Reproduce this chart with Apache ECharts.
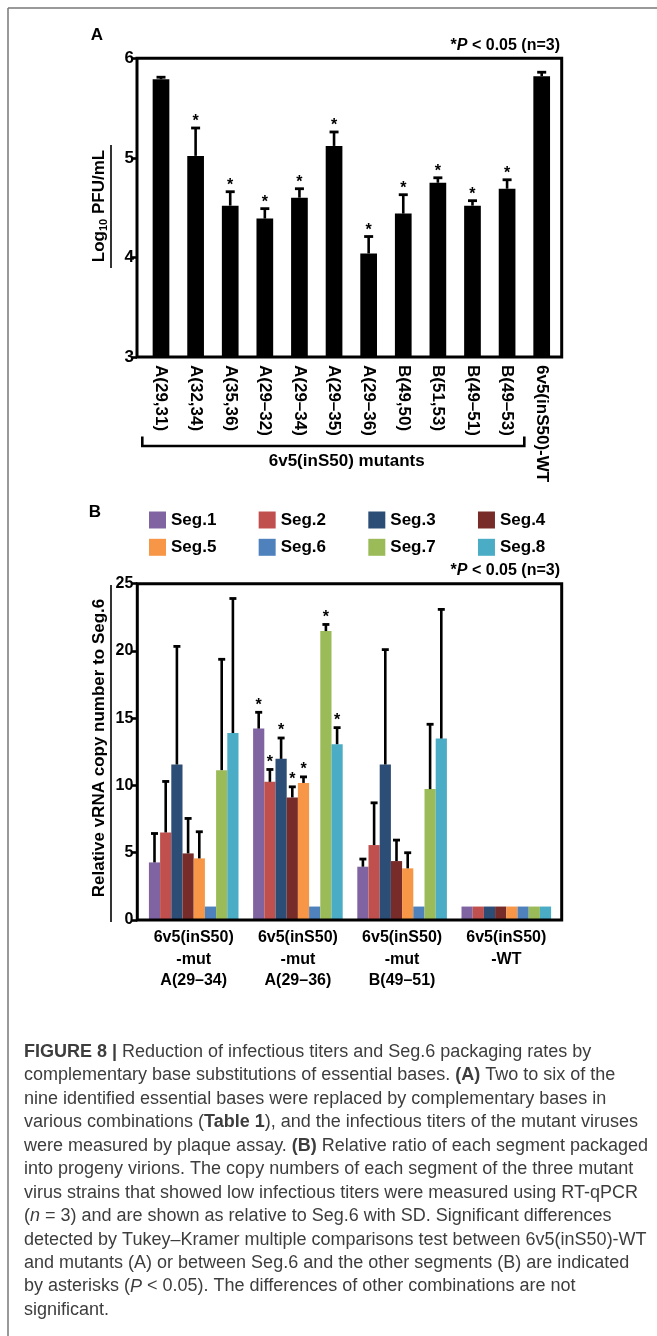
<!DOCTYPE html>
<html><head><meta charset="utf-8">
<script src="https://cdn.jsdelivr.net/npm/echarts@6/dist/echarts.min.js"></script>
<style>html,body{margin:0;padding:0;background:#fff}#c{width:657px;height:1336px}</style>
</head><body><div id="c"></div>
<script>
// ---------- Panel A data ----------
const mutantLabels = ['A(29,31)','A(32,34)','A(35,36)','A(29–32)','A(29–34)','A(29–35)','A(29–36)','B(49,50)','B(51,53)','B(49–51)','B(49–53)','6v5(inS50)-WT'];
const titerMean = [5.79, 5.02, 4.52, 4.39, 4.60, 5.12, 4.04, 4.44, 4.75, 4.52, 4.69, 5.82];
const titerSD   = [0.02, 0.28, 0.14, 0.10, 0.09, 0.14, 0.17, 0.19, 0.05, 0.05, 0.09, 0.04];
const titerSig  = [0, 1, 1, 1, 1, 1, 1, 1, 1, 1, 1, 0];
const yMinA = 3, yMaxA = 6, yStepA = 1;

// ---------- Panel B data ----------
const groupLabels = ['6v5(inS50)\n-mut\nA(29–34)', '6v5(inS50)\n-mut\nA(29–36)', '6v5(inS50)\n-mut\nB(49–51)', '6v5(inS50)\n-WT'];
const segNames = ['Seg.1','Seg.2','Seg.3','Seg.4','Seg.5','Seg.6','Seg.7','Seg.8'];
const seg1Mean = [4.28, 14.23, 3.96, 1];
const seg2Mean = [6.51, 10.27, 5.57, 1];
const seg3Mean = [11.56, 11.98, 11.56, 1];
const seg4Mean = [4.95, 9.11, 4.38, 1];
const seg5Mean = [4.58, 10.19, 3.84, 1];
const seg6Mean = [1, 1, 1, 1];
const seg7Mean = [11.14, 21.48, 9.73, 1];
const seg8Mean = [13.90, 13.07, 13.49, 1];
const seg1SD = [2.15, 1.21, 0.57, 0];
const seg2SD = [3.79, 0.92, 3.14, 0];
const seg3SD = [8.78, 1.55, 8.54, 0];
const seg4SD = [2.60, 0.79, 1.56, 0];
const seg5SD = [1.98, 0.45, 1.16, 0];
const seg6SD = [0, 0, 0, 0];
const seg7SD = [8.24, 0.49, 4.82, 0];
const seg8SD = [10.00, 1.23, 9.60, 0];
const seg1Sig = [0, 1, 0, 0];
const seg2Sig = [0, 1, 0, 0];
const seg3Sig = [0, 1, 0, 0];
const seg4Sig = [0, 1, 0, 0];
const seg5Sig = [0, 1, 0, 0];
const seg6Sig = [0, 0, 0, 0];
const seg7Sig = [0, 1, 0, 0];
const seg8Sig = [0, 1, 0, 0];
const yMinB = 0, yMaxB = 25, yStepB = 5;

// ---------- styles ----------
const segColors = ['#8064A2','#C0504D','#2C4D75','#772C2A','#F79646','#4F81BD','#9BBB59','#4BACC6'];
const FONT = '"Liberation Sans", Arial, sans-serif';
const barWA = 16.7, barWB = 11.2;

const segMeans = [seg1Mean,seg2Mean,seg3Mean,seg4Mean,seg5Mean,seg6Mean,seg7Mean,seg8Mean];
const segSDs = [seg1SD,seg2SD,seg3SD,seg4SD,seg5SD,seg6SD,seg7SD,seg8SD];
const segSigs = [seg1Sig,seg2Sig,seg3Sig,seg4Sig,seg5Sig,seg6Sig,seg7Sig,seg8Sig];

const errA = titerMean.map((m, i) => [i, m, titerSD[i], titerSig[i]]);
const errB = [];
segMeans.forEach((arr, s) => arr.forEach((m, g) => errB.push([g, m, segSDs[s][g], segSigs[s][g], s])));

function errRenderer(cap, starGap, offsetFn) {
  return function (params, api) {
    const i = api.value(0), m = api.value(1), sd = api.value(2), sig = api.value(3);
    if (!sd) return null;
    const p0 = api.coord([i, m]);
    const p1 = api.coord([i, m + sd]);
    const dx = offsetFn ? offsetFn(api) : 0;
    const x = p0[0] + dx;
    const ch = [
      {type: 'line', shape: {x1: x, y1: p0[1], x2: x, y2: p1[1]}, style: {stroke: '#000', lineWidth: 2.6}},
      {type: 'line', shape: {x1: x - cap / 2, y1: p1[1], x2: x + cap / 2, y2: p1[1]}, style: {stroke: '#000', lineWidth: 2.8}}
    ];
    if (sig) ch.push({type: 'text', style: {text: '*', x: x, y: p1[1] - starGap, align: 'center', verticalAlign: 'middle', font: 'bold 16px ' + FONT, fill: '#000'}});
    return {type: 'group', children: ch};
  };
}

const captionLines = [
  '{b|FIGURE 8 |} Reduction of infectious titers and Seg.6 packaging rates by',
  'complementary base substitutions of essential bases. {b|(A)} Two to six of the',
  'nine identified essential bases were replaced by complementary bases in',
  'various combinations ({b|Table 1}), and the infectious titers of the mutant viruses',
  'were measured by plaque assay. {b|(B)} Relative ratio of each segment packaged',
  'into progeny virions. The copy numbers of each segment of the three mutant',
  'virus strains that showed low infectious titers were measured using RT-qPCR',
  '({i|n} = 3) and are shown as relative to Seg.6 with SD. Significant differences',
  'detected by Tukey–Kramer multiple comparisons test between 6v5(inS50)-WT',
  'and mutants (A) or between Seg.6 and the other segments (B) are indicated',
  'by asterisks ({i|P} < 0.05). The differences of other combinations are not',
  'significant.'
];
const CAP_FS = 18, CAP_COLOR = '#3d3d3d';
const capRich = {
  b: {fontWeight: 'bold', fontSize: CAP_FS, fontFamily: FONT, color: CAP_COLOR},
  i: {fontStyle: 'italic', fontSize: CAP_FS, fontFamily: FONT, color: CAP_COLOR}
};
const pRich = {a: {fontSize: 16, fontWeight: 'bold', fontFamily: FONT, color: '#000'}, p: {fontSize: 16, fontWeight: 'bold', fontStyle: 'italic', fontFamily: FONT, color: '#000'}};

const graphics = [
  {type: 'line', shape: {x1: 8, y1: 8, x2: 657, y2: 8}, style: {stroke: '#777', lineWidth: 1.5}},
  {type: 'line', shape: {x1: 8, y1: 8, x2: 8, y2: 1336}, style: {stroke: '#777', lineWidth: 1.5}},
  {type: 'rect', shape: {x: 137, y: 58.3, width: 424.7, height: 298.7}, style: {stroke: '#000', fill: null, lineWidth: 3}, z: 10},
  {type: 'rect', shape: {x: 137.3, y: 583.7, width: 424.4, height: 336.3}, style: {stroke: '#000', fill: null, lineWidth: 3}, z: 10},
  {type: 'text', x: 97, y: 35, style: {text: 'A', font: 'bold 17px ' + FONT, fill: '#000', align: 'center', verticalAlign: 'middle'}},
  {type: 'text', x: 95, y: 512, style: {text: 'B', font: 'bold 17px ' + FONT, fill: '#000', align: 'center', verticalAlign: 'middle'}},
  {type: 'text', x: 560, y: 46, style: {text: '{a|*}{p|P}{a| < 0.05 (n=3)}', align: 'right', verticalAlign: 'middle', rich: pRich}},
  {type: 'text', x: 560, y: 571, style: {text: '{a|*}{p|P}{a| < 0.05 (n=3)}', align: 'right', verticalAlign: 'middle', rich: pRich}},
  {type: 'text', x: 99, y: 206, rotation: Math.PI / 2, style: {text: '{m|Log}{s|10}{m| PFU/mL}', align: 'center', verticalAlign: 'middle',
    rich: {m: {fontSize: 17, fontWeight: 'bold', fontFamily: FONT, color: '#000', lineHeight: 20}, s: {fontSize: 11, fontWeight: 'bold', fontFamily: FONT, color: '#000', lineHeight: 11, padding: [9, 0, 0, 0]}}}},
  {type: 'line', shape: {x1: 111, y1: 145, x2: 111, y2: 268}, style: {stroke: '#000', lineWidth: 1.6}},
  {type: 'text', x: 99, y: 748, rotation: Math.PI / 2, style: {text: 'Relative vRNA copy number to Seg.6', font: 'bold 17px ' + FONT, fill: '#000', align: 'center', verticalAlign: 'middle'}},
  {type: 'line', shape: {x1: 111, y1: 585, x2: 111, y2: 922}, style: {stroke: '#000', lineWidth: 1.6}},
  {type: 'polyline', shape: {points: [[142.3, 436.5], [142.3, 446], [524.3, 446], [524.3, 436.5]]}, style: {stroke: '#000', fill: null, lineWidth: 2.6}},
  {type: 'text', x: 346.7, y: 461, style: {text: '6v5(inS50) mutants', font: 'bold 17px ' + FONT, fill: '#000', align: 'center', verticalAlign: 'middle'}}
];
captionLines.forEach((t, k) => {
  graphics.push({type: 'text', x: 24, y: 1052 + k * 23.45, style: {text: t, rich: capRich, fontSize: CAP_FS, fontFamily: FONT, fill: CAP_COLOR, align: 'left', verticalAlign: 'middle'}});
});

const legendText = {fontSize: 17, fontWeight: 'bold', color: '#000', fontFamily: FONT};
const chart = echarts.init(document.getElementById('c'), null, {renderer: 'canvas'});
const option = {
  animation: false,
  textStyle: {fontFamily: FONT},
  grid: [
    {left: 143.7, right: 657 - 559, top: 58.3, height: 298.7},
    {left: 141.6, right: 657 - 558.4, top: 583.7, height: 336.3}
  ],
  legend: [
    {data: segNames.slice(0, 4), left: 149, top: 511.5, padding: 0, itemWidth: 17, itemHeight: 17, itemGap: 42.3, icon: 'rect', selectedMode: false, textStyle: legendText},
    {data: segNames.slice(4), left: 149, top: 538.8, padding: 0, itemWidth: 17, itemHeight: 17, itemGap: 42.3, icon: 'rect', selectedMode: false, textStyle: legendText}
  ],
  xAxis: [
    {type: 'category', gridIndex: 0, data: mutantLabels, axisLine: {show: false}, axisTick: {show: false},
      axisLabel: {interval: 0, rotate: -90, margin: 8, fontSize: 17, fontWeight: 'bold', color: '#000'}},
    {type: 'category', gridIndex: 1, data: groupLabels, axisLine: {show: false}, axisTick: {show: false},
      axisLabel: {interval: 0, margin: 7, fontSize: 16, fontWeight: 'bold', color: '#000', lineHeight: 21.5}}
  ],
  yAxis: [
    {type: 'value', gridIndex: 0, min: yMinA, max: yMaxA, interval: yStepA, offset: 6.7, splitLine: {show: false},
      axisLine: {show: false}, axisTick: {show: true, length: 6, lineStyle: {color: '#000', width: 2.6}},
      axisLabel: {margin: 3, fontSize: 17, fontWeight: 'bold', color: '#000'}},
    {type: 'value', gridIndex: 1, min: yMinB, max: yMaxB, interval: yStepB, offset: 4.3, splitLine: {show: false},
      axisLine: {show: false}, axisTick: {show: true, length: 6, lineStyle: {color: '#000', width: 2.6}},
      axisLabel: {margin: 4, fontSize: 16, fontWeight: 'bold', color: '#000'}}
  ],
  series: [
    {type: 'bar', xAxisIndex: 0, yAxisIndex: 0, data: titerMean, barWidth: barWA, itemStyle: {color: '#000'}},
    {type: 'custom', xAxisIndex: 0, yAxisIndex: 0, data: errA, encode: {x: 0, y: 1}, z: 5,
      renderItem: errRenderer(9, 6, null)},
    ...segNames.map((n, s) => ({type: 'bar', name: n, xAxisIndex: 1, yAxisIndex: 1, data: segMeans[s], barWidth: barWB, barGap: '0%',
      itemStyle: {color: segColors[s]}})),
    {type: 'custom', xAxisIndex: 1, yAxisIndex: 1, data: errB, encode: {x: 0, y: 1}, z: 5,
      renderItem: function (params, api) {
        const s = api.value(4);
        return errRenderer(7, 7, () => (s - 3.5) * barWB)(params, api);
      }}
  ],
  graphic: graphics
};
chart.setOption(option);
</script></body></html>
